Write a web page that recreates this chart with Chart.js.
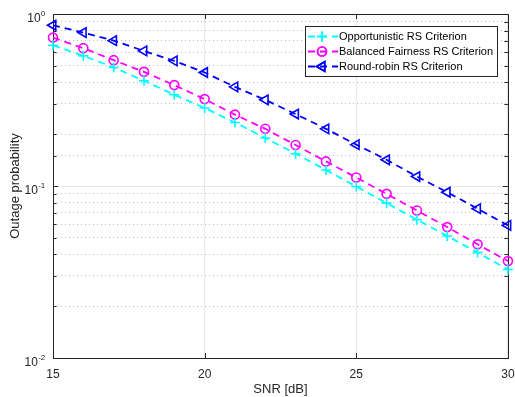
<!DOCTYPE html>
<html>
<head>
<meta charset="utf-8">
<script src="https://cdn.jsdelivr.net/npm/chart.js@4/dist/chart.umd.min.js"></script>
<style>
  html, body { margin: 0; padding: 0; background: #fff; }
  #wrap { width: 515px; height: 397px; }
</style>
</head>
<body>
<div id="wrap"><canvas id="c" width="515" height="397"></canvas></div>
<script>
// ---- data ----
const snr = [15,16,17,18,19,20,21,22,23,24,25,26,27,28,29,30];
const opportunistic = [0.658,0.571,0.489,0.409,0.339,0.284,0.234,0.190,0.154,0.124,0.0993,0.0795,0.0637,0.0512,0.041,0.0327];
const balanced      = [0.729,0.633,0.539,0.461,0.386,0.320,0.260,0.215,0.173,0.139,0.112,0.090,0.072,0.0577,0.0458,0.0366];
const roundRobin    = [0.86,0.78,0.70,0.61,0.534,0.457,0.377,0.317,0.262,0.215,0.174,0.142,0.1135,0.092,0.0738,0.059];
const seriesNames = ['Opportunistic RS Criterion','Balanced Fairness RS Criterion','Round-robin RS Criterion'];
const xTickValues = [15,20,25,30];
const yTickValues = [1,0.1,0.01];
const yTickBase = '10';
const yTickExponents = ['0','-1','-2'];
const xTitle = 'SNR [dB]';
const yTitle = 'Outage probability';

const FONT = '"Liberation Sans", Arial, Helvetica, sans-serif';
const AXIS_COLOR = '#262626';

function pts(arr){ return snr.map((x,i)=>({x:x, y:arr[i]})); }
function isMajor(v){ const l = Math.log10(v); return Math.abs(l - Math.round(l)) < 1e-9; }

function ds(label, data, color, style, radius, rot){
  return {
    label, data: pts(data),
    borderColor: color, backgroundColor: 'rgba(0,0,0,0)',
    borderWidth: 1.8, borderDash: [7,5],
    pointStyle: style, pointRadius: radius, pointRotation: rot || 0,
    pointBorderColor: color, pointBackgroundColor: 'rgba(0,0,0,0)',
    pointBorderWidth: 1.6, pointHoverRadius: radius,
    tension: 0, clip: false, fill: false
  };
}

const bgPlugin = {
  id: 'bg',
  beforeDraw(chart){
    const c = chart.ctx; c.save(); c.fillStyle = '#fff';
    c.fillRect(0,0,chart.width,chart.height); c.restore();
  }
};

const boxPlugin = {
  id: 'box',
  beforeDatasetsDraw(chart){
    const c = chart.ctx, a = chart.chartArea;
    const xs = chart.scales.x, ys = chart.scales.y;
    c.save();
    c.strokeStyle = AXIS_COLOR; c.lineWidth = 1;
    c.strokeRect(Math.round(a.left)+0.5, Math.round(a.top)+0.5, Math.round(a.right-a.left), Math.round(a.bottom-a.top));
    // inward tick marks
    c.beginPath();
    const L = 5;
    xs.ticks.forEach(t=>{
      const px = Math.round(xs.getPixelForValue(t.value))+0.5;
      c.moveTo(px, a.bottom); c.lineTo(px, a.bottom-L);
      c.moveTo(px, a.top); c.lineTo(px, a.top+L);
    });
    ys.ticks.forEach(t=>{
      const py = Math.round(ys.getPixelForValue(t.value))+0.5;
      const l = isMajor(t.value) ? 5 : 3.5;
      c.moveTo(a.left, py); c.lineTo(a.left+l, py);
      c.moveTo(a.right, py); c.lineTo(a.right-l, py);
    });
    c.stroke();
    // y tick labels: 10 with superscript exponent
    c.fillStyle = AXIS_COLOR;
    c.textBaseline = 'alphabetic';
    c.textAlign = 'left';
    yTickValues.forEach((v,i)=>{
      const py = ys.getPixelForValue(v);
      c.font = '8px ' + FONT;
      const ew = c.measureText(yTickExponents[i]).width;
      c.font = '12px ' + FONT;
      const bw = c.measureText(yTickBase).width;
      const right = a.left - 8;
      const ex = right - ew;
      const bxp = ex - bw;
      c.fillText(yTickBase, bxp, py + 7.5);
      c.font = '8px ' + FONT;
      c.fillText(yTickExponents[i], ex + 0.3, py + 1.5);
    });
    c.restore();
  }
};

function drawMarker(c, d, x, y){
  if (Chart.helpers && Chart.helpers.drawPoint){
    Chart.helpers.drawPoint(c, {pointStyle: d.pointStyle, radius: d.pointRadius, rotation: d.pointRotation, borderWidth: d.pointBorderWidth}, x, y);
    c.stroke();
  }
}

const legendPlugin = {
  id: 'mlegend',
  afterDraw(chart){
    const c = chart.ctx;
    const bx = 305, by = 26, bw = 192, bh = 50;
    c.save();
    c.fillStyle = '#fff';
    c.fillRect(bx, by, bw, bh);
    c.strokeStyle = '#262626'; c.lineWidth = 1;
    c.strokeRect(bx+0.5, by+0.5, bw, bh);
    c.font = '11px ' + FONT;
    c.textBaseline = 'middle';
    chart.data.datasets.forEach((d,i)=>{
      const y = by + 10.5 + i*15;
      c.strokeStyle = d.borderColor; c.lineWidth = d.borderWidth;
      c.setLineDash(d.borderDash);
      c.beginPath(); c.moveTo(bx+3, y); c.lineTo(bx+33, y); c.stroke();
      c.setLineDash([]);
      c.lineWidth = d.pointBorderWidth;
      c.fillStyle = 'rgba(0,0,0,0)';
      drawMarker(c, d, bx+17, y);
      c.fillStyle = '#000';
      c.fillText(d.label, bx+34, y+0.5);
    });
    c.restore();
  }
};

new Chart(document.getElementById('c'), {
  type: 'line',
  data: {
    datasets: [
      ds(seriesNames[0], opportunistic, '#00FFFF', 'cross', 5),
      ds(seriesNames[1], balanced, '#FF00FF', 'circle', 4.5),
      ds(seriesNames[2], roundRobin, '#0000FF', 'triangle', 5.5, 270)
    ]
  },
  options: {
    responsive: false, animation: false, devicePixelRatio: 1,
    layout: { padding: { top: 14, right: 6, left: 0, bottom: 0 } },
    plugins: { legend: { display: false }, tooltip: { enabled: false } },
    events: [],
    scales: {
      x: {
        type: 'linear', min: 15, max: 30,
        afterBuildTicks(s){ s.ticks = xTickValues.map(v=>({value:v})); },
        ticks: { font: { size: 12, family: FONT }, color: AXIS_COLOR, padding: 9, maxRotation: 0 },
        grid: { color: '#e6e6e6', lineWidth: 1, drawTicks: false },
        border: { display: false },
        title: { display: true, text: xTitle, font: { size: 13, family: FONT }, color: AXIS_COLOR, padding: { top: 3, bottom: 0 } },
        afterFit(s){ s.height = 39; s.paddingLeft = 0; s.paddingRight = 0; }
      },
      y: {
        type: 'logarithmic', min: 0.01, max: 1,
        ticks: {
          autoSkip: false, font: { size: 12, family: FONT }, color: AXIS_COLOR, padding: 6,
          callback(){ return ''; }
        },
        grid: {
          drawTicks: false, lineWidth: 1,
          color(ctx){ if(!ctx.tick) return '#e6e6e6'; return isMajor(ctx.tick.value) ? '#e6e6e6' : '#bdbdbd'; }
        },
        border: {
          display: false,
          dash(ctx){ if(!ctx.tick) return []; return isMajor(ctx.tick.value) ? [] : [1,3]; }
        },
        title: { display: true, text: yTitle, font: { size: 13, family: FONT }, color: AXIS_COLOR, padding: { top: 8, bottom: 0 } },
        afterFit(s){ s.width = 53; s.paddingTop = 0; s.paddingBottom = 0; }
      }
    }
  },
  plugins: [bgPlugin, boxPlugin, legendPlugin]
});
</script>
</body>
</html>
